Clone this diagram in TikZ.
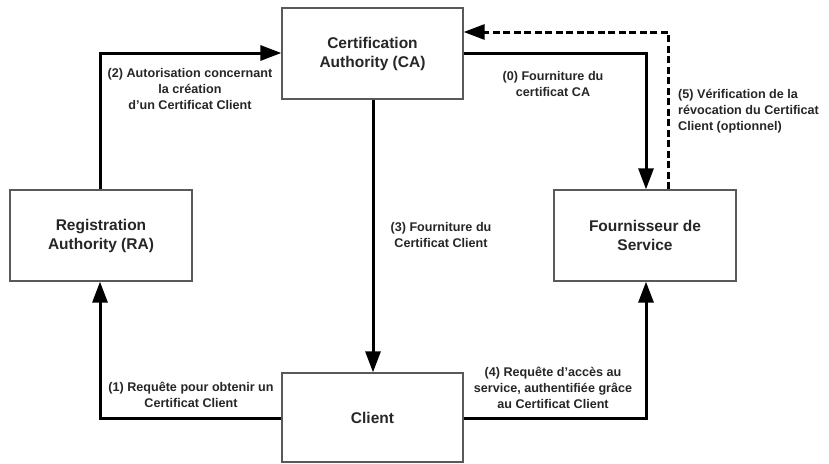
\documentclass[tikz,border=0pt]{standalone}
\usepackage{fontspec}
\setmainfont{Liberation Sans}
\usetikzlibrary{arrows.meta}
\begin{document}
\begin{tikzpicture}[x=1pt,y=-1pt,
  box/.style={draw=black!65,line width=1.3pt,fill=white,inner sep=0pt,align=center,
    font=\fontsize{15.5}{19}\selectfont\bfseries,text=black!85},
  lbl/.style={align=center,font=\fontsize{12.6}{16}\selectfont\bfseries,text=black!85,inner sep=0pt},
  conn/.style={line width=3pt,-{Triangle[length=21pt,width=15pt]}},
  dconn/.style={line width=3pt,dash pattern=on 7pt off 3.5pt,-{Triangle[length=21pt,width=15pt]}}]
\useasboundingbox (0,0) rectangle (829,463);
\node[box,minimum width=181pt,minimum height=91pt] (ca) at (372.5,53.5) {Certification\\Authority (CA)};
\node[box,minimum width=182pt,minimum height=91pt] (ra) at (101,235.5) {Registration\\Authority (RA)};
\node[box,minimum width=182pt,minimum height=91pt] (fs) at (645,235.5) {Fournisseur de\\Service};
\node[box,minimum width=181pt,minimum height=89pt] (cl) at (372.5,417.5) {Client};
\coordinate (c2) at (100,53);
\coordinate (c0) at (646,53);
\coordinate (c5) at (668,32);
\coordinate (c1) at (100,418);
\coordinate (c4) at (646,418);
\draw[conn] (ra.north -| c2) -- (c2) -- (c2 -| ca.west);
\draw[conn] (ca.east |- c0) -- (c0) -- (c0 |- fs.north);
\draw[dconn] (c5 |- fs.north) -- (c5) -- (c5 -| ca.east);
\draw[conn] (ca.south -| 373,0) -- (cl.north -| 373,0);
\draw[conn] (cl.west |- c1) -- (c1) -- (c1 |- ra.south);
\draw[conn] (cl.east |- c4) -- (c4) -- (c4 |- fs.south);
\node[lbl] (l2) at (190,89) {(2) Autorisation concernant\\la création\\d'un Certificat Client};
\node[lbl] (l0) at (553,83.5) {(0) Fourniture du\\certificat CA};
\node[lbl,align=left,anchor=west] (l5) at (678,111.5) {(5) Vérification de la\\révocation du Certificat\\Client (optionnel)};
\node[lbl] (l3) at (441,235) {(3) Fourniture du\\Certificat Client};
\node[lbl] (l1) at (191,395) {(1) Requête pour obtenir un\\Certificat Client};
\node[lbl] (l4) at (553,388) {(4) Requête d'accès au\\service, authentifiée grâce\\au Certificat Client};
\end{tikzpicture}
\end{document}
